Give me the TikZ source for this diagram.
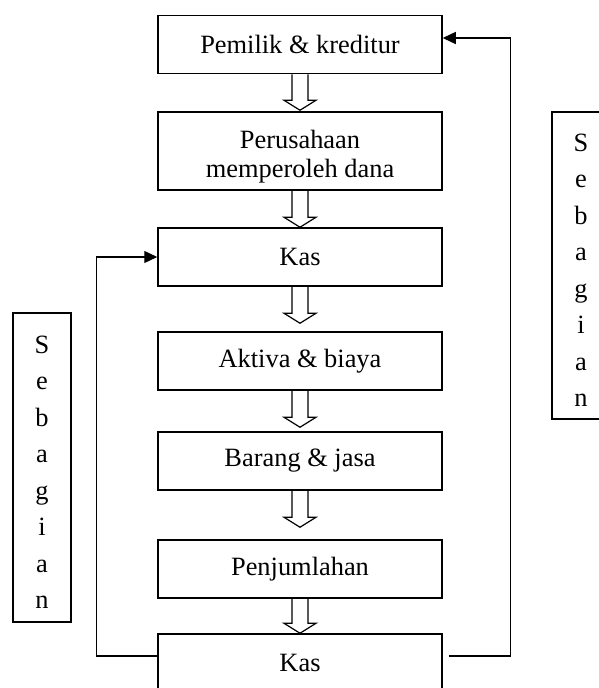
\documentclass[tikz,border=0pt]{standalone}
\usepackage{fontspec}
\setmainfont{Liberation Serif}
\usetikzlibrary{arrows.meta,calc}
\newcommand\harrow[3]{%
  \draw[hollowarr] ([xshift=-8pt]#1.south) -- ([xshift=-8pt,yshift=#3+10pt]#2.north)
    -- ([xshift=-16pt,yshift=#3+10pt]#2.north) -- ([yshift=#3]#2.north)
    -- ([xshift=16pt,yshift=#3+10pt]#2.north) -- ([xshift=8pt,yshift=#3+10pt]#2.north)
    -- ([xshift=8pt]#1.south);}
\begin{document}
\begin{tikzpicture}[x=1pt,y=-1pt,
  every node/.style={font=\fontsize{26.4}{30}\selectfont},
  box/.style={draw, line width=1.5pt, minimum width=284pt, minimum height=58pt, inner sep=0pt},
  sebbox/.style={draw, line width=1.5pt, minimum width=58pt, inner sep=0pt},
  sebtext/.style={align=center, inner sep=0pt, font=\fontsize{26.4}{36.5}\selectfont},
  hollowarr/.style={line width=1.2pt, line join=miter},
  conn/.style={line width=1.3pt},
  tip/.style={-{Triangle[length=13pt,width=12pt]}}]
\useasboundingbox (0,0) rectangle (599,688);
\clip (0,0) rectangle (599,688);
% main boxes
\node[box] (b1) at (300,44.5) {Pemilik \& kreditur};
\node[box, minimum height=78pt] (b2) at (300,151) {};
\node[align=center, inner sep=0pt, font=\fontsize{26.4}{29}\selectfont] (b2t) at (300,157) {Perusahaan\\memperoleh dana};
\node[box] (b3) at (300,257) {Kas};
\node[box] (b4) at (300,361) {Aktiva \& biaya};
\node[box] (b5) at (300,461) {Barang \& jasa};
\node[box] (b6) at (300,569) {Penjumlahan};
\node[box] (b7) at (300,663) {Kas};
% hollow arrows
\harrow{b1}{b2}{1pt}
\harrow{b2}{b3}{0pt}
\harrow{b3}{b4}{8pt}
\harrow{b4}{b5}{4pt}
\harrow{b5}{b6}{12pt}
\harrow{b6}{b7}{0pt}
% side boxes
\node[sebbox, minimum height=309pt] (sl) at (42,467.5) {};
\node[sebtext, yshift=-5pt] (slt) at (sl.center) {S\\e\\b\\a\\g\\i\\a\\n};
\node[sebbox, minimum height=307pt] (sr) at (581,265.5) {};
\node[sebtext, yshift=-5pt] (srt) at (sr.center) {S\\e\\b\\a\\g\\i\\a\\n};
% feedback connectors
\draw[conn, tip] ([yshift=7pt]b7.west) -- ++(-61,0) |- (b3.west);
\draw[conn, tip] ([xshift=6pt,yshift=7pt]b7.east) -- ++(62,0) |- ([yshift=6.5pt]b1.east);
\end{tikzpicture}
\end{document}
